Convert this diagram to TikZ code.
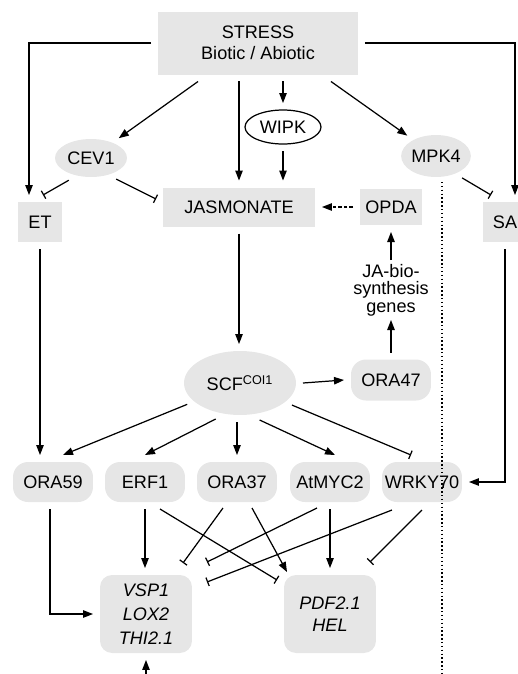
\documentclass[tikz,border=0pt]{standalone}
\usepackage{fontspec}
\setmainfont{Liberation Sans}
\usetikzlibrary{shapes.geometric,arrows.meta,calc}
\definecolor{boxgray}{RGB}{230,230,230}

\begin{document}
\begin{tikzpicture}[x=0.02cm,y=-0.02cm,
    font=\fontsize{10.3}{12}\selectfont,
    every node/.style={inner sep=0pt,outer sep=0.14cm},
    sqbox/.style={rectangle,fill=boxgray},
    ovalbox/.style={ellipse,fill=boxgray},
    tfbox/.style={rectangle,rounded corners=0.3cm,fill=boxgray,minimum width=1.6cm,minimum height=0.8cm},
    genebox/.style={rectangle,rounded corners=0.24cm,fill=boxgray,minimum width=1.84cm,minimum height=1.56cm,align=center},
    act/.style={line width=0.7pt,-{Triangle[length=2mm,width=1.5mm]}},
    inh/.style={line width=0.7pt,-{Bar[width=1.8mm]}},
    sepline/.style={line width=1pt,dash pattern=on 0.8pt off 1.4pt}]
    \useasboundingbox (0,0) rectangle (518,674);

    % top part
    \node[sqbox,minimum width=4cm,minimum height=1.26cm,align=center,
          font=\fontsize{10.3}{11.7}\selectfont] (stress) at (258,43) {STRESS\\Biotic / Abiotic};
    \node[ovalbox,minimum width=1.44cm,minimum height=0.76cm] (cev1) at (91,158) {CEV1};
    \node[ellipse,draw=black,line width=0.7pt,fill=white,minimum width=1.52cm,minimum height=0.68cm] (wipk) at (283,127) {WIPK};
    \node[ovalbox,minimum width=1.24cm,minimum height=0.84cm] (mpk4) at (436,156) {MPK4};
    \node[sqbox,minimum width=0.88cm,minimum height=0.8cm] (et) at (40,222) {ET};
    \node[sqbox,minimum width=3.04cm,minimum height=0.78cm] (jasm) at (239,207) {JASMONATE};
    \node[sqbox,minimum width=1.24cm,minimum height=0.72cm] (opda) at (391,207) {OPDA};
    \node[sqbox,minimum width=0.88cm,minimum height=0.8cm] (sa) at (505,222) {SA};
    \node[align=center,font=\fontsize{10.3}{10}\selectfont,outer sep=0.08cm] (jagenes) at (391,290) {JA-bio-\\synthesis\\genes};

    % middle part
    \node[ovalbox,minimum width=2.24cm,minimum height=1.28cm] (scf) at (240,383) {SCF\textsuperscript{COI1}};
    \node[tfbox,minimum height=0.82cm] (ora47) at (391,380) {ORA47};
    \node[tfbox] (ora59) at (53,482) {ORA59};
    \node[tfbox] (erf1) at (145,482) {ERF1};
    \node[tfbox] (ora37) at (237,482) {ORA37};
    \node[tfbox] (atmyc2) at (330,482) {AtMYC2};
    \node[tfbox] (wrky70) at (422,482) {WRKY70};

    % target genes
    \node[genebox,font=\fontsize{10.3}{13.5}\selectfont\itshape] (vsp) at (146,614) {VSP1\\LOX2\\THI2.1};
    \node[genebox,font=\fontsize{10.3}{12.5}\selectfont\itshape] (pdf) at (330,614) {PDF2.1\\HEL};

    \coordinate (vspin) at (146,676);
    \coordinate (septop) at (442,182);
    \coordinate (sepbot) at (442,674);

    % signals from stress
    \draw[act] (stress.west) -| ([xshift=-0.22cm]et.north);
    \draw[act] (stress.east) -| ([xshift=0.2cm]sa.north);
    \path[act] ([xshift=-1.2cm]stress.south) edge (cev1);
    \path[act] (stress.south -| jasm.north) edge (jasm.north);
    \path[act] (stress.south -| wipk.north) edge (wipk.north);
    \path[act] (wipk.south) edge (wipk.south |- jasm.north);
    \path[act] ([xshift=1.46cm]stress.south) edge (mpk4);
    \path[inh] (cev1.225) edge ([xshift=0.06cm]et.north);
    \path[inh] (cev1.-40) edge ([yshift=0.16cm]jasm.west);
    \path[inh] (mpk4.-40) edge ([xshift=-0.28cm]sa.north);
    \path[act,dash pattern=on 2pt off 1.2pt] (opda.west) edge (jasm.east);
    \path[act] (jasm.south) edge (jasm.south |- scf.north);
    \path[act] (scf.east) edge (ora47.west);
    \path[act] (ora47.north) edge (jagenes.south);
    \path[act] (jagenes.north) edge (opda.south);

    % SCF to transcription factors
    \path[act] (scf.202) edge ([xshift=0.2cm]ora59.north);
    \path[act] (scf.236) edge (erf1.north);
    \path[act] (scf.south -| ora37.north) edge (ora37.north);
    \path[act] (scf.298) edge ([xshift=0.1cm]atmyc2.north);
    \path[inh] (scf.337) edge ([xshift=-0.22cm]wrky70.north);
    \path[act] (et.south) edge (et.south |- ora59.north);
    \draw[act] (sa.south) |- (wrky70.east);

    % transcription factors to genes
    \draw[act] ([xshift=-0.06cm]ora59.south) |- (vsp.west);
    \path[act] (erf1.south) edge (erf1.south |- vsp.north);
    \path[act] (atmyc2.south) edge (atmyc2.south |- pdf.north);
    \path[inh] ($(erf1)+(15,27)$) edge ($(pdf)+(-53,-34)$);
    \path[inh] ($(ora37)+(-14,26)$) edge ($(vsp)+(37,-51)$);
    \path[act] ($(ora37)+(15,26)$) edge ($(pdf)+(-43,-42)$);
    \path[inh] ($(atmyc2)+(-13,26)$) edge ($(vsp)+(61,-52)$);
    \path[inh] ($(wrky70)+(-30,28)$) edge ($(vsp)+(61,-32)$);
    \path[inh] ($(wrky70)+(0,28)$) edge ($(pdf)+(40,-52)$);
    \path[act] (vspin) edge (vsp.south);

    \draw[sepline] (septop) -- (sepbot);
\end{tikzpicture}
\end{document}
